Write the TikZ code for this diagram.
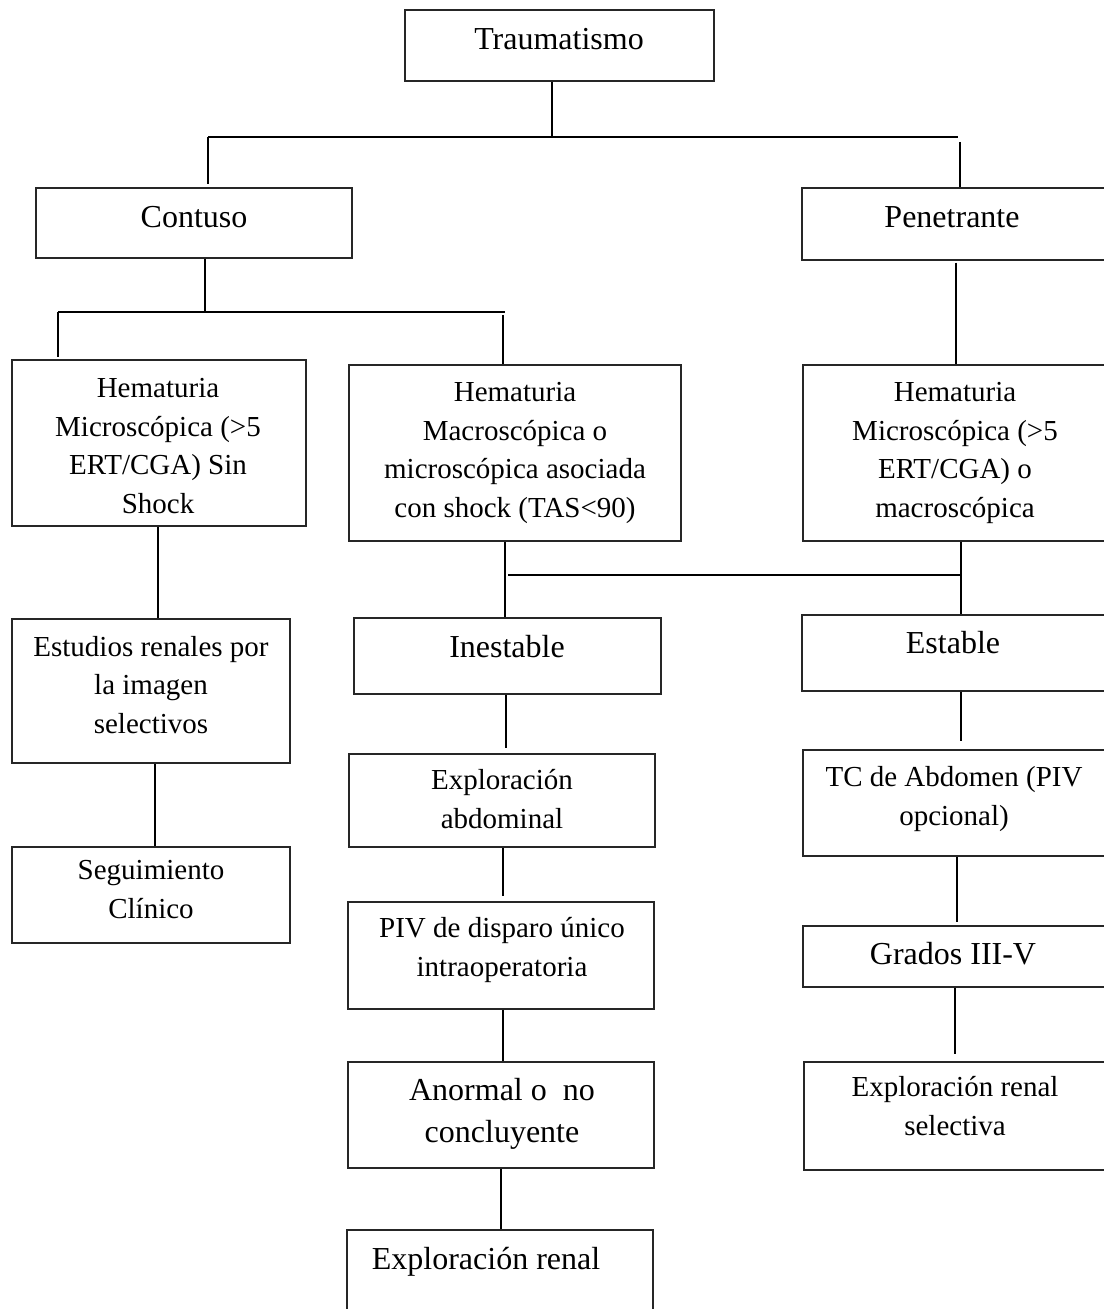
\documentclass[tikz,border=0pt]{standalone}
\usepackage{fontspec}
\setmainfont{Liberation Serif}
\usetikzlibrary{fit}
\begin{document}
\begin{tikzpicture}[x=0.5pt,y=-0.5pt,
  box/.style={draw=black!85, line width=0.75pt, inner sep=0pt},
  txt/.style={inner sep=0pt, align=center, font=\fontsize{14.5}{19.2}\selectfont, anchor=base},
  big/.style={inner sep=0pt, align=center, font=\fontsize{16}{21}\selectfont, anchor=base},
  conn/.style={line width=0.75pt},
  bus/.style={line width=1.1pt}]
\useasboundingbox (0,0) rectangle (1103,1309);
% boxes
\node[box, fit={(405,10)(714,81)}] (trau) {};
\node[box, fit={(36,188)(352,258)}] (cont) {};
\node[box, fit={(802,188)(1110,260)}] (pene) {};
\node[box, fit={(12,360)(306,526)}] (hem1) {};
\node[box, fit={(349,365)(681,541)}] (hem2) {};
\node[box, fit={(803,365)(1110,541)}] (hem3) {};
\node[box, fit={(12,619)(290,763)}] (estu) {};
\node[box, fit={(12,847)(290,943)}] (segu) {};
\node[box, fit={(354,618)(661,694)}] (ines) {};
\node[box, fit={(802,615)(1110,691)}] (esta) {};
\node[box, fit={(349,754)(655,847)}] (expa) {};
\node[box, fit={(803,750)(1110,856)}] (tcab) {};
\node[box, fit={(348,902)(654,1009)}] (piv) {};
\node[box, fit={(803,926)(1110,987)}] (grad) {};
\node[box, fit={(348,1062)(654,1168)}] (anor) {};
\node[box, fit={(804,1062)(1110,1170)}] (exps) {};
\node[box, fit={(347,1230)(653,1320)}] (expr) {};
% texts
\node[big] (trau-t) at (559,50) {Traumatismo};
\node[big] (cont-t) at (194,228) {Contuso};
\node[big] (pene-t) at (952,228) {Penetrante};
\node[txt] (hem1-t) at (158,513) {Hematuria\\Microscópica (>5\\ERT/CGA) Sin\\Shock};
\node[txt] (hem2-t) at (515,517) {Hematuria\\Macroscópica o\\microscópica asociada\\con shock (TAS<90)};
\node[txt] (hem3-t) at (955,517) {Hematuria\\Microscópica (>5\\ERT/CGA) o\\macroscópica};
\node[txt] (estu-t) at (151,733) {Estudios renales por\\la imagen\\selectivos};
\node[txt] (segu-t) at (151,918) {Seguimiento\\Clínico};
\node[big] (ines-t) at (507,657) {Inestable};
\node[big] (esta-t) at (953,653) {Estable};
\node[txt] (expa-t) at (502,828) {Exploración\\abdominal};
\node[txt] (tcab-t) at (954,825) {TC de Abdomen (PIV\\opcional)};
\node[txt] (piv-t) at (502,976) {PIV de disparo único\\intraoperatoria};
\node[big] (grad-t) at (953,964) {Grados III-V};
\node[big] (anor-t) at (502,1142) {Anormal o\ \ no\\concluyente};
\node[txt] (exps-t) at (955,1135) {Exploración renal\\selectiva};
\node[big] (expr-t) at (486,1269) {Exploración renal};
% junction coordinates
\coordinate (j1) at (552,137);
\coordinate (b1L) at (208,137);
\coordinate (b1R) at (958,137);
\coordinate (k3) at (960,142);
\coordinate (j2) at (205,312);
\coordinate (b2L) at (58,312);
\coordinate (b2R) at (505,312);
\coordinate (k6) at (503,315);
\coordinate (k7) at (956,0);
\coordinate (k8) at (158,0);
\coordinate (k9) at (155,0);
\coordinate (k10) at (505,0);
\coordinate (b3L) at (508,575);
\coordinate (b3R) at (960,575);
\coordinate (k11) at (961,0);
\coordinate (k12) at (506,0);
\coordinate (k14) at (503,0);
\coordinate (k15) at (957,0);
\coordinate (k17) at (955,0);
\coordinate (k18) at (501,0);
% connectors
\draw[conn] (trau.south -| j1) -- (j1);
\draw[bus] (b1L) -- (b1R);
\draw[conn, shorten >=1.5pt] (b1L) -- (cont.north -| b1L);
\draw[conn] (k3) -- (pene.north -| k3);
\draw[conn] (cont.south -| j2) -- (j2);
\draw[bus] (b2L) -- (b2R);
\draw[conn, shorten >=1pt] (b2L) -- (hem1.north -| b2L);
\draw[conn] (k6) -- (hem2.north -| k6);
\draw[conn, shorten <=1pt] (pene.south -| k7) -- (hem3.north -| k7);
\draw[conn] (hem1.south -| k8) -- (estu.north -| k8);
\draw[conn] (estu.south -| k9) -- (segu.north -| k9);
\draw[conn] (hem2.south -| k10) -- (ines.north -| k10);
\draw[bus] (b3L) -- (b3R);
\draw[conn] (hem3.south -| k11) -- (esta.north -| k11);
\draw[conn, shorten >=2.5pt] (ines.south -| k12) -- (expa.north -| k12);
\draw[conn, shorten >=4pt] (esta.south -| k11) -- (tcab.north -| k11);
\draw[conn, shorten >=2.5pt] (expa.south -| k14) -- (piv.north -| k14);
\draw[conn, shorten >=1.5pt] (tcab.south -| k15) -- (grad.north -| k15);
\draw[conn] (piv.south -| k14) -- (anor.north -| k14);
\draw[conn, shorten >=3.5pt] (grad.south -| k17) -- (exps.north -| k17);
\draw[conn] (anor.south -| k18) -- (expr.north -| k18);
\end{tikzpicture}
\end{document}
